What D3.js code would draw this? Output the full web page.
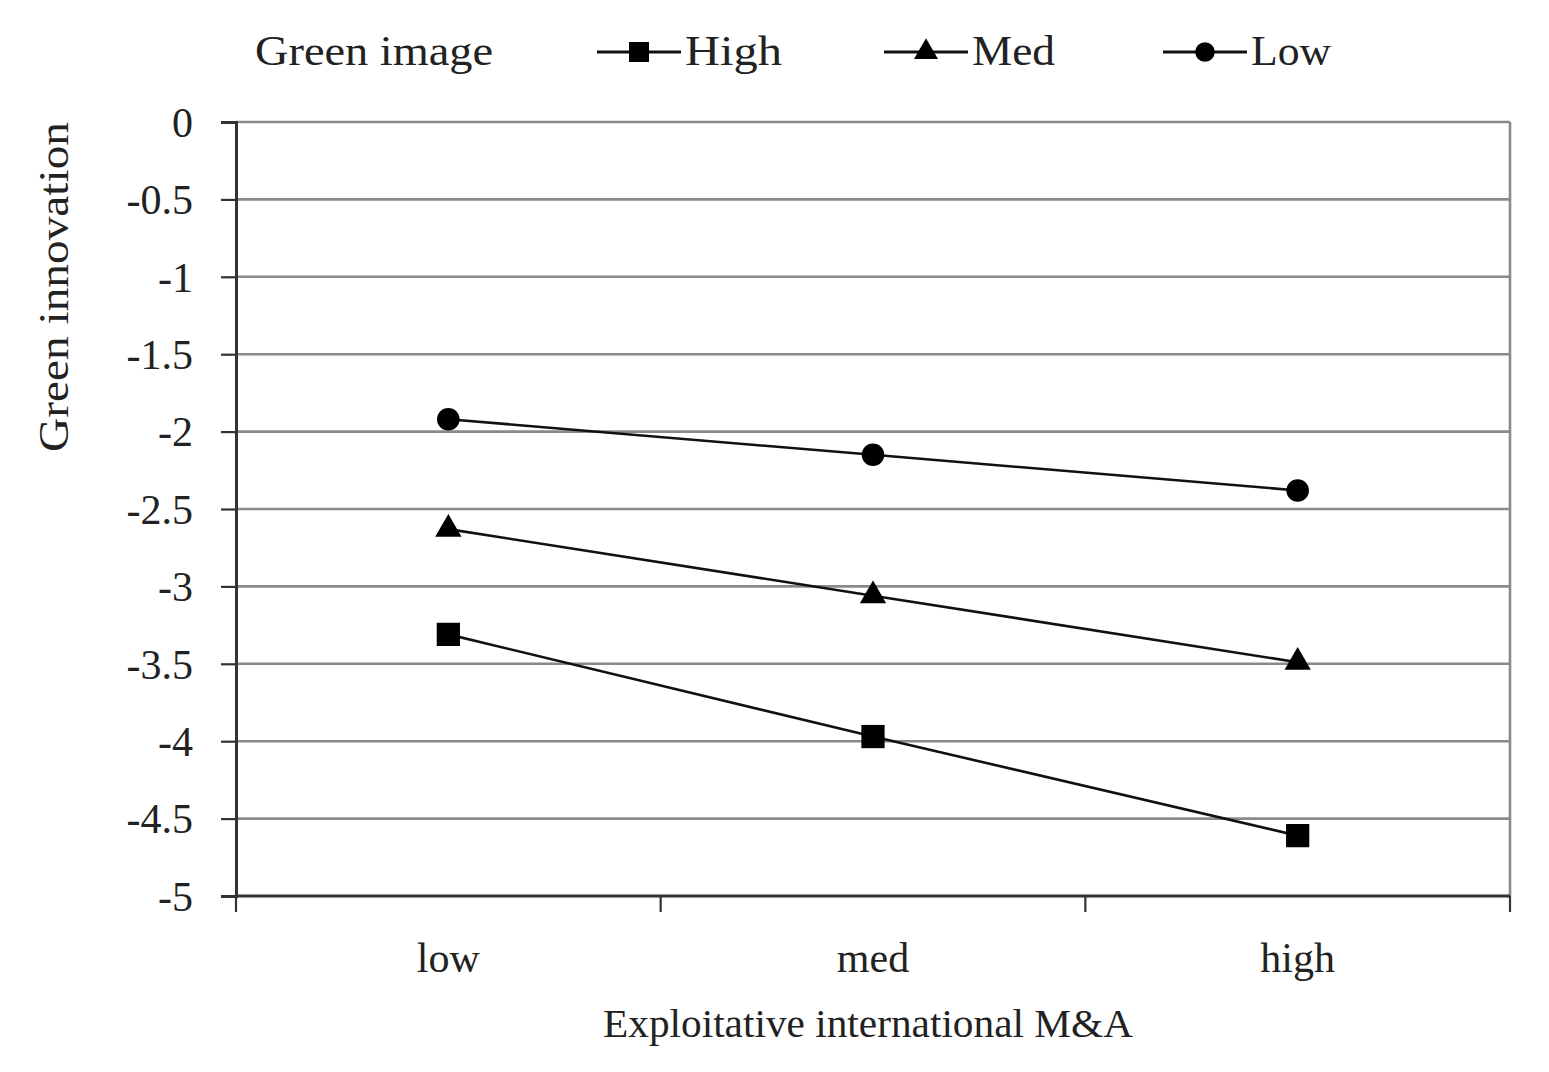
<!DOCTYPE html>
<html>
<head>
<meta charset="utf-8">
<script src="https://cdn.jsdelivr.net/npm/d3@7"></script>
<style>
  html, body { margin: 0; padding: 0; background: #fff; }
  svg { display: block; }
  text { font-family: "Liberation Serif", "Times New Roman", serif; fill: #222; }
</style>
</head>
<body>
<svg id="chart" width="1549" height="1072"></svg>
<script>
const categories = ["low", "med", "high"];
const seriesNames = ["High", "Med", "Low"];
const seriesSymbols = ["square", "triangle", "circle"];
const highValues = [-3.31, -3.97, -4.61];
const medValues = [-2.63, -3.06, -3.49];
const lowValues = [-1.92, -2.15, -2.38];
const yTicks = [0, -0.5, -1, -1.5, -2, -2.5, -3, -3.5, -4, -4.5, -5];
const legendTitle = "Green image";
const xTitle = "Exploitative international M&A";
const yTitle = "Green innovation";

const series = [
  { name: seriesNames[0], symbol: seriesSymbols[0], values: highValues },
  { name: seriesNames[1], symbol: seriesSymbols[1], values: medValues },
  { name: seriesNames[2], symbol: seriesSymbols[2], values: lowValues }
];

const svg = d3.select("#chart");
const pLeft = 236, pRight = 1510, pTop = 122, pBottom = 896;

const x = d3.scaleBand().domain(categories).range([pLeft, pRight]);
const y = d3.scaleLinear().domain([-5, 0]).range([pBottom, pTop]);

const gridColor = "#8a8a8a";
const axisColor = "#333";

// gridlines
svg.append("g").selectAll("line").data(yTicks.filter(d => d !== -5)).join("line")
  .attr("x1", pLeft).attr("x2", pRight)
  .attr("y1", d => y(d)).attr("y2", d => y(d))
  .attr("stroke", gridColor).attr("stroke-width", 2.6);

// right border
svg.append("line").attr("x1", pRight).attr("x2", pRight).attr("y1", pTop).attr("y2", pBottom)
  .attr("stroke", gridColor).attr("stroke-width", 2.6);

// y axis
const yAxis = d3.axisLeft(y).tickValues(yTicks).tickSize(15).tickPadding(28)
  .tickFormat(d => String(d));
const gy = svg.append("g").attr("transform", `translate(${pLeft},0)`).call(yAxis);
gy.select(".domain").attr("stroke", axisColor).attr("stroke-width", 3);
gy.selectAll(".tick line").attr("stroke", axisColor).attr("stroke-width", 2.2);
gy.selectAll(".tick text").attr("font-size", 42).attr("fill", "#222")
  .style("font-family", '"Liberation Serif", serif').attr("dy", "0.34em");

// x axis (ticks at band boundaries)
const boundaries = [pLeft].concat(categories.map(c => x(c) + x.bandwidth()));
const gx = svg.append("g");
gx.append("line").attr("x1", pLeft).attr("x2", pRight).attr("y1", pBottom).attr("y2", pBottom)
  .attr("stroke", axisColor).attr("stroke-width", 3);
gx.selectAll("line.tk").data(boundaries).join("line").attr("class", "tk")
  .attr("x1", d => d).attr("x2", d => d).attr("y1", pBottom).attr("y2", pBottom + 16)
  .attr("stroke", axisColor).attr("stroke-width", 2.2);
gx.selectAll("text").data(categories).join("text")
  .attr("x", d => x(d) + x.bandwidth() / 2).attr("y", 972)
  .attr("text-anchor", "middle").attr("font-size", 42).text(d => d);

// axis titles
svg.append("text").attr("x", 868).attr("y", 1037).attr("text-anchor", "middle")
  .attr("font-size", 40).attr("textLength", 530).attr("lengthAdjust", "spacingAndGlyphs").text(xTitle);
svg.append("text").attr("transform", "translate(68,287) rotate(-90)").attr("text-anchor", "middle")
  .attr("font-size", 42).attr("textLength", 330).attr("lengthAdjust", "spacingAndGlyphs").text(yTitle);

// symbols
function symbolPath(sym, size) {
  const t = sym === "square" ? d3.symbolSquare : sym === "triangle" ? d3.symbolTriangle : d3.symbolCircle;
  return d3.symbol().type(t).size(size)();
}
const symSize = { square: 540, triangle: 300, circle: 400 };

const line = d3.line().x((d, i) => x(categories[i]) + x.bandwidth() / 2).y(d => y(d));
series.forEach(s => {
  svg.append("path").attr("d", line(s.values)).attr("fill", "none")
    .attr("stroke", "#111").attr("stroke-width", 2.6);
  svg.append("g").selectAll("path").data(s.values).join("path")
    .attr("transform", (d, i) => `translate(${x(categories[i]) + x.bandwidth() / 2},${y(d)})`)
    .attr("d", symbolPath(s.symbol, symSize[s.symbol])).attr("fill", "#000");
});

// legend
svg.append("text").attr("x", 255).attr("y", 65).attr("font-size", 42)
  .attr("textLength", 238).attr("lengthAdjust", "spacingAndGlyphs").text(legendTitle);
const legendX = [597, 884, 1163];
const legendTextW = [97, 83, 80];
const legendSymSize = { square: 400, triangle: 250, circle: 300 };
series.forEach((s, i) => {
  const x0 = legendX[i];
  svg.append("line").attr("x1", x0).attr("x2", x0 + 84).attr("y1", 52).attr("y2", 52)
    .attr("stroke", "#111").attr("stroke-width", 3);
  svg.append("path").attr("transform", `translate(${x0 + 42},52)`)
    .attr("d", symbolPath(s.symbol, legendSymSize[s.symbol])).attr("fill", "#000");
  svg.append("text").attr("x", x0 + 88).attr("y", 65).attr("font-size", 42)
    .attr("textLength", legendTextW[i]).attr("lengthAdjust", "spacingAndGlyphs").text(s.name);
});
</script>
</body>
</html>
